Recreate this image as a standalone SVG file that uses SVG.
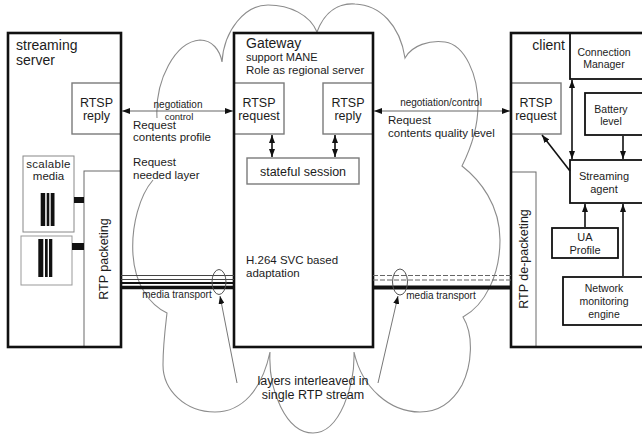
<svg xmlns="http://www.w3.org/2000/svg" width="642" height="436" viewBox="0 0 642 436">
  <defs>
    <marker id="ah" viewBox="0 0 8 6" refX="8" refY="3" markerWidth="8" markerHeight="6" markerUnits="userSpaceOnUse" orient="auto-start-reverse">
      <path d="M0,0 L8,3 L0,6 z" fill="#111"/>
    </marker>
    <style>
      text { font-family: "Liberation Sans", Arial, sans-serif; fill: #1c1c1c; }
      .t14 { font-size: 14px; }
      .t125 { font-size: 12.5px; }
      .t115 { font-size: 11.5px; }
      .t11 { font-size: 11px; }
      .t105 { font-size: 10.5px; }
      .t10 { font-size: 10px; }
      .t95 { font-size: 9.5px; }
      .mid { text-anchor: middle; }
      .bg { fill: #fff; stroke: none; }
      .frame { fill: none; stroke: #111; stroke-width: 2.6; }
      .inner { fill: #fff; stroke: #7a7a7a; stroke-width: 1.4; }
      .thin { fill: none; stroke: #6a6a6a; stroke-width: 1; }
      .blk { fill: #fff; stroke: #111; stroke-width: 1.8; }
      .cloud { fill: none; stroke: #8c8c8c; stroke-width: 1.1; }
      .ctl { stroke: #666; stroke-width: 1.2; fill: none; }
      .arr { stroke: #111; stroke-width: 1.6; fill: none; }
      .ptr { stroke: #777; stroke-width: 1; fill: none; }
      .bar { fill: #111; }
    </style>
  </defs>

  <rect x="0" y="0" width="642" height="436" fill="#fff"/>

  <!-- network cloud -->
  <g id="cloud">
    <path class="cloud" d="M157,118 C155,80 175,42 200,40 C212,40 220,50 222,62
      C224,30 245,5 268,5 C290,5 310,15 317,32
      C325,10 340,3 355,4 C380,5 400,25 405,58
      C412,45 430,40 445,42 C465,45 478,75 478,105 C478,130 470,150 462,166
      C480,180 500,205 500,240 C500,275 485,305 463,317
      C474,335 472,365 462,385 C452,403 438,412 420,412 C390,412 362,388 354,352
      C355,385 340,433 313,433 C286,433 268,390 270,352
      C262,390 242,412 215,412 C185,412 163,390 163,365 C163,345 165,330 167,313
      C150,305 135,285 133,255 C131,225 140,195 153,180"/>
  </g>

  <!-- streaming server -->
  <g id="server">
    <rect class="bg" x="8" y="33" width="113" height="314"/>
    <rect class="inner" x="72" y="83" width="49" height="51"/>
    <rect class="thin" x="84" y="171" width="37" height="176"/>
    <rect class="thin" x="23" y="156" width="51" height="76" style="stroke:#888"/>
    <rect class="thin" x="21" y="236" width="51" height="49" style="stroke:#999"/>
    <rect class="bar" x="40.7" y="193" width="4.5" height="33"/>
    <rect class="bar" x="46.7" y="193" width="2.6" height="33"/>
    <rect class="bar" x="50.7" y="193" width="3.8" height="33"/>
    <rect class="bar" x="38.3" y="239" width="5" height="38"/>
    <rect class="bar" x="45" y="239" width="2.7" height="38"/>
    <rect class="bar" x="49" y="239" width="3.3" height="38"/>
    <rect class="bar" x="74" y="197" width="10" height="6"/>
    <rect class="bar" x="72" y="243" width="12" height="7"/>
    <rect class="frame" x="8" y="33" width="113" height="314"/>
    <text class="t14" x="16" y="50">streaming</text>
    <text class="t14" x="16" y="65">server</text>
    <text class="t125 mid" x="96.5" y="107">RTSP</text>
    <text class="t125 mid" x="96.5" y="120">reply</text>
    <text class="t115 mid" x="48.5" y="168" letter-spacing="0.3">scalable</text>
    <text class="t115 mid" x="48.5" y="180">media</text>
    <text class="t125 mid" transform="translate(108,259) rotate(-90)">RTP packeting</text>
  </g>

  <!-- gateway -->
  <g id="gateway">
    <rect class="bg" x="234" y="33" width="139" height="314"/>
    <rect class="inner" x="234" y="83" width="50" height="51"/>
    <rect class="inner" x="323" y="83" width="50" height="51"/>
    <rect class="inner" x="247" y="158" width="112" height="26"/>
    <rect class="frame" x="234" y="33" width="139" height="314"/>
    <text class="t14" x="246" y="48">Gateway</text>
    <text class="t11" x="246" y="61">support MANE</text>
    <text class="t115" x="246" y="74">Role as regional server</text>
    <text class="t125 mid" x="259" y="107">RTSP</text>
    <text class="t125 mid" x="259" y="120">request</text>
    <text class="t125 mid" x="348" y="107">RTSP</text>
    <text class="t125 mid" x="348" y="120">reply</text>
    <text class="t125 mid" x="303" y="176">stateful session</text>
    <text class="t115" x="246" y="264">H.264 SVC based</text>
    <text class="t115" x="246" y="277">adaptation</text>
  </g>

  <!-- client -->
  <g id="client">
    <rect class="bg" x="511" y="33" width="140" height="314"/>
    <rect class="inner" x="511" y="83" width="50" height="51"/>
    <rect class="thin" x="511" y="172" width="25" height="175"/>
    <rect class="blk" x="570" y="33" width="80" height="46"/>
    <rect class="blk" x="585" y="93" width="65" height="42"/>
    <rect class="blk" x="570" y="160" width="80" height="43"/>
    <rect class="blk" x="552" y="228" width="66" height="30"/>
    <rect class="blk" x="563" y="277" width="87" height="48"/>
    <rect class="frame" x="511" y="33" width="140" height="314"/>
    <text class="t14" x="565" y="50" text-anchor="end">client</text>
    <text class="t125 mid" x="536" y="107">RTSP</text>
    <text class="t125 mid" x="536" y="120">request</text>
    <text class="t105 mid" x="604" y="56">Connection</text>
    <text class="t105 mid" x="604" y="68">Manager</text>
    <text class="t105 mid" x="611" y="113">Battery</text>
    <text class="t105 mid" x="611" y="125">level</text>
    <text class="t11 mid" x="604" y="180">Streaming</text>
    <text class="t11 mid" x="604" y="193">agent</text>
    <text class="t11 mid" x="585" y="241">UA</text>
    <text class="t11 mid" x="585" y="254">Profile</text>
    <text class="t105 mid" x="604" y="292">Network</text>
    <text class="t105 mid" x="604" y="305">monitoring</text>
    <text class="t105 mid" x="604" y="318">engine</text>
    <text class="t125 mid" transform="translate(528,259) rotate(-90)">RTP de-packeting</text>
  </g>

  <!-- connectors -->
  <g id="connectors">
    <!-- RTSP negotiation -->
    <line class="ctl" x1="122" y1="111" x2="233" y2="111" marker-start="url(#ah)" marker-end="url(#ah)"/>
    <line class="ctl" x1="374" y1="111" x2="510" y2="111" marker-start="url(#ah)" marker-end="url(#ah)"/>
    <!-- gateway internals -->
    <line class="arr" x1="272" y1="135" x2="272" y2="157" marker-start="url(#ah)" marker-end="url(#ah)"/>
    <line class="arr" x1="335" y1="135" x2="335" y2="157" marker-start="url(#ah)" marker-end="url(#ah)"/>
    <!-- client internals -->
    <line class="arr" x1="572" y1="80" x2="572" y2="159" marker-start="url(#ah)" marker-end="url(#ah)"/>
    <line class="arr" x1="623" y1="136" x2="623" y2="159" marker-end="url(#ah)"/>
    <line class="arr" x1="570" y1="171" x2="542" y2="135" marker-end="url(#ah)"/>
    <line class="arr" x1="585" y1="227" x2="585" y2="204" marker-end="url(#ah)"/>
    <line class="arr" x1="623" y1="276" x2="623" y2="204" marker-end="url(#ah)"/>
    <!-- media transport, server side -->
    <line x1="121" y1="275.5" x2="234" y2="275.5" stroke="#444" stroke-width="1"/>
    <line x1="121" y1="279.5" x2="234" y2="279.5" stroke="#444" stroke-width="1"/>
    <line x1="121" y1="283" x2="234" y2="283" stroke="#111" stroke-width="2.2"/>
    <line x1="121" y1="287.5" x2="234" y2="287.5" stroke="#111" stroke-width="3.6"/>
    <!-- media transport, client side -->
    <line x1="373" y1="275.5" x2="511" y2="275.5" stroke="#666" stroke-width="1" stroke-dasharray="5 2"/>
    <line x1="373" y1="280" x2="511" y2="280" stroke="#666" stroke-width="1" stroke-dasharray="5 2"/>
    <line x1="373" y1="287.5" x2="511" y2="287.5" stroke="#111" stroke-width="4.2"/>
    <ellipse cx="219" cy="282" rx="7" ry="12.5" fill="none" stroke="#555" stroke-width="1"/>
    <ellipse cx="400" cy="282" rx="7.5" ry="13" fill="none" stroke="#555" stroke-width="1"/>
    <line class="ptr" x1="237" y1="383" x2="220" y2="296" marker-end="url(#ah)"/>
    <line class="ptr" x1="378" y1="383" x2="398" y2="296" marker-end="url(#ah)"/>
  </g>

  <!-- link labels -->
  <g id="labels">
    <text class="t10 mid" x="178" y="108">negotiation</text>
    <text class="t95 mid" x="179" y="119.5">control</text>
    <text class="t115" x="133" y="129">Request</text>
    <text class="t115" x="133" y="141">contents profile</text>
    <text class="t115" x="133" y="166">Request</text>
    <text class="t115" x="133" y="179">needed layer</text>
    <text class="t10 mid" x="441" y="106">negotiation/control</text>
    <text class="t115" x="388" y="124">Request</text>
    <text class="t115" x="388" y="137">contents quality level</text>
    <text class="t10 mid" x="177" y="298">media transport</text>
    <text class="t10 mid" x="441" y="299">media transport</text>
    <text class="t125 mid" x="313" y="385">layers interleaved in</text>
    <text class="t125 mid" x="313" y="399">single RTP stream</text>
  </g>
</svg>
